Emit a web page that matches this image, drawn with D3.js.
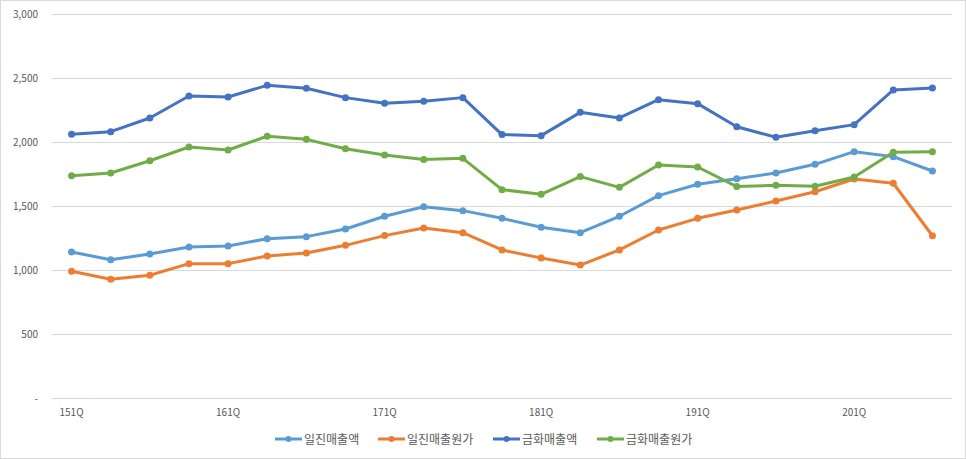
<!DOCTYPE html>
<html><head><meta charset="utf-8">
<script src="https://d3js.org/d3.v7.min.js"></script>
<style>
  body { margin: 0; background: #fff; }
  text { font-family: "Noto Sans CJK KR", "Noto Sans", sans-serif; fill: #595959; }
</style>
</head>
<body>
<div id="chart"></div>
<script>
// quarters 15.1Q .. 21.3Q
var quarters = ["151Q","152Q","153Q","154Q","161Q","162Q","163Q","164Q","171Q","172Q","173Q","174Q",
                "181Q","182Q","183Q","184Q","191Q","192Q","193Q","194Q","201Q","202Q","203Q"];
var tickLabels = ["151Q","161Q","171Q","181Q","191Q","201Q"];
var yTicks = [0, 500, 1000, 1500, 2000, 2500, 3000];

var seriesNames = ["일진매출액", "일진매출원가", "금화매출액", "금화매출원가"];
var iljinSales = [1143,1083,1127,1182,1190,1247,1263,1323,1422,1497,1466,1406,1336,1294,1422,1583,1672,1716,1760,1828,1927,1888,1776];
var iljinCost  = [992,930,961,1052,1052,1112,1135,1195,1271,1331,1294,1159,1096,1041,1159,1315,1406,1471,1541,1614,1713,1680,1270];
var geumSales  = [2062,2083,2190,2362,2354,2445,2422,2349,2305,2320,2349,2060,2052,2234,2190,2333,2302,2122,2039,2091,2138,2409,2424];
var geumCost   = [1739,1760,1856,1963,1940,2047,2023,1950,1901,1865,1875,1630,1594,1732,1648,1823,1807,1654,1664,1656,1729,1922,1927];
var colors = ["#5B9BD5", "#ED7D31", "#4472C4", "#70AD47"];

var width = 966, height = 459;
var svg = d3.select("#chart").append("svg")
  .attr("width", width).attr("height", height);

// outer frame
svg.append("rect").attr("x", 0.5).attr("y", 0.5)
  .attr("width", width - 1).attr("height", height - 1)
  .attr("fill", "#fff").attr("stroke", "#d9d9d9");

var x = d3.scaleBand().domain(quarters).range([52, 952]);
var y = d3.scaleLinear().domain([0, 3000]).range([398.3, 14.3]);
var cx = function(q) { return x(q) + x.bandwidth() / 2; };

// gridlines + y labels
var yAxis = svg.append("g");
yAxis.selectAll("line").data(yTicks).enter().append("line")
  .attr("x1", 52).attr("x2", 952)
  .attr("y1", function(d) { return Math.round(y(d)) + 0.5; })
  .attr("y2", function(d) { return Math.round(y(d)) + 0.5; })
  .attr("stroke", "#d9d9d9").attr("stroke-width", 1);
yAxis.selectAll("text").data(yTicks).enter().append("text")
  .attr("x", 38).attr("y", function(d) { return y(d) + 3.5; })
  .attr("text-anchor", "end").style("font-size", "10px")
  .text(function(d) { return d === 0 ? "-" : d3.format(",")(d); });

// x labels
svg.append("g").selectAll("text").data(tickLabels).enter().append("text")
  .attr("x", function(d) { return cx(d); }).attr("y", 416)
  .attr("text-anchor", "middle").style("font-size", "10px")
  .text(function(d) { return d; });

var allSeries = [iljinSales, iljinCost, geumSales, geumCost];

var line = d3.line()
  .x(function(d, i) { return cx(quarters[i]); })
  .y(function(d) { return y(d); });

// draw in order so later series sit on top
allSeries.forEach(function(vals, s) {
  var g = svg.append("g");
  g.append("path")
    .attr("d", line(vals))
    .attr("fill", "none")
    .attr("stroke", colors[s])
    .attr("stroke-width", 3)
    .attr("stroke-linejoin", "round")
    .attr("stroke-linecap", "round");
  g.selectAll("circle").data(vals).enter().append("circle")
    .attr("cx", function(d, i) { return cx(quarters[i]); })
    .attr("cy", function(d) { return y(d); })
    .attr("r", 3.5)
    .attr("fill", colors[s]);
});

// legend
var legendX = [275, 378, 493, 597];
var legend = svg.append("g");
seriesNames.forEach(function(name, s) {
  var lg = legend.append("g").attr("transform", "translate(" + legendX[s] + ",439)");
  lg.append("line").attr("x1", 0).attr("x2", 27).attr("y1", 0).attr("y2", 0)
    .attr("stroke", colors[s]).attr("stroke-width", 3);
  lg.append("circle").attr("cx", 13.5).attr("cy", 0).attr("r", 3).attr("fill", colors[s]);
  lg.append("text").attr("x", 29).attr("y", 4.5).style("font-size", "12px").text(name);
});
</script>
</body></html>
